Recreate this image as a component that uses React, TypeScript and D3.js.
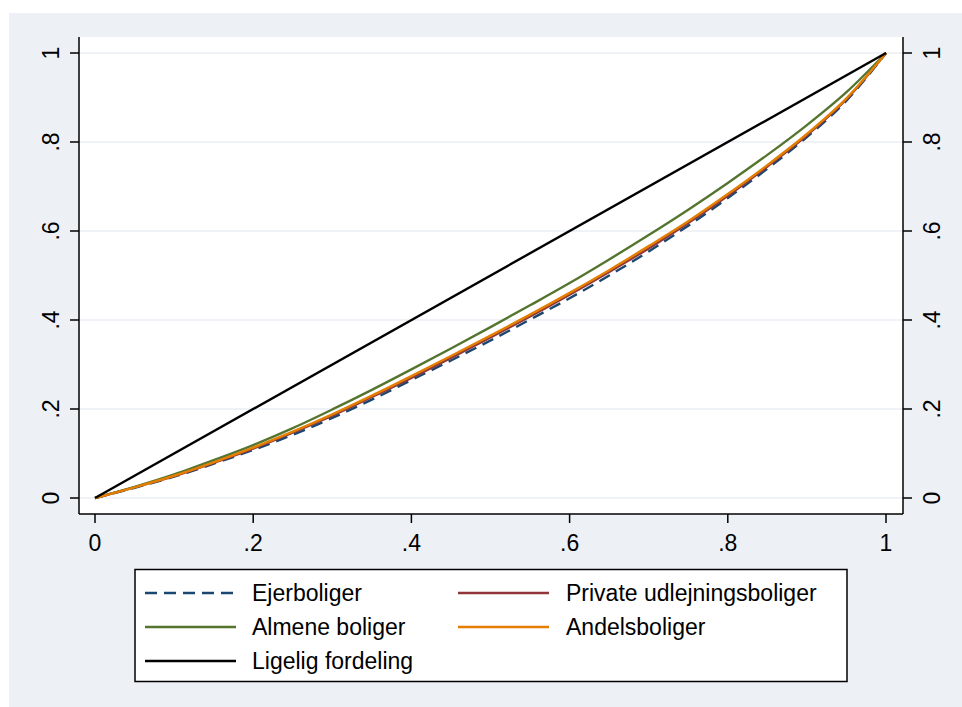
import React from "react";
import * as d3 from "d3";

const xShares = [0, 0.05, 0.1, 0.15, 0.2, 0.25, 0.3, 0.35, 0.4, 0.45, 0.5, 0.55, 0.6, 0.65, 0.7, 0.75, 0.8, 0.85, 0.9, 0.95, 1];
const ejerboliger = [0, 0.023, 0.048, 0.077, 0.108, 0.142, 0.18, 0.221, 0.265, 0.309, 0.354, 0.401, 0.449, 0.5, 0.554, 0.612, 0.674, 0.74, 0.811, 0.893, 1];
const privateUdlejning = [0, 0.024, 0.049, 0.079, 0.111, 0.147, 0.185, 0.227, 0.27, 0.315, 0.361, 0.408, 0.457, 0.508, 0.561, 0.618, 0.679, 0.745, 0.815, 0.896, 1];
const almeneBoliger = [0, 0.025, 0.053, 0.085, 0.119, 0.157, 0.199, 0.243, 0.289, 0.336, 0.384, 0.433, 0.483, 0.536, 0.591, 0.648, 0.708, 0.771, 0.838, 0.912, 1];
const andelsboliger = [0, 0.024, 0.05, 0.08, 0.113, 0.149, 0.188, 0.23, 0.274, 0.319, 0.365, 0.412, 0.461, 0.512, 0.566, 0.622, 0.683, 0.748, 0.818, 0.898, 1];
const ligeligX = [0, 1];
const ligeligY = [0, 1];

const xTicks = [0, 0.2, 0.4, 0.6, 0.8, 1];
const yTicks = [0, 0.2, 0.4, 0.6, 0.8, 1];
const tickLabels = ["0", ".2", ".4", ".6", ".8", "1"];

const seriesNames = ["Ejerboliger", "Private udlejningsboliger", "Almene boliger", "Andelsboliger", "Ligelig fordeling"];

const W = 962;
const H = 707;
const FONT = "Arial, 'Liberation Sans', sans-serif";

export default function App() {
  const x = d3.scaleLinear().domain([0, 1]).range([95, 886]);
  const y = d3.scaleLinear().domain([0, 1]).range([498, 53]);
  const plot = { l: 79, r: 903, t: 37, b: 514 };

  const line = d3
    .line<[number, number]>()
    .x((d) => x(d[0]))
    .y((d) => y(d[1]))
    .curve(d3.curveMonotoneX);

  const mk = (xs: number[], ys: number[]) => line(xs.map((v, i) => [v, ys[i]] as [number, number])) || "";

  const series = [
    { name: seriesNames[0], path: mk(xShares, ejerboliger), color: "#1a476f", dash: "12,7" },
    { name: seriesNames[1], path: mk(xShares, privateUdlejning), color: "#90353b", dash: undefined },
    { name: seriesNames[2], path: mk(xShares, almeneBoliger), color: "#55752f", dash: undefined },
    { name: seriesNames[3], path: mk(xShares, andelsboliger), color: "#e37e00", dash: undefined },
    { name: seriesNames[4], path: mk(ligeligX, ligeligY), color: "#000000", dash: undefined },
  ];

  const legendPos = [
    { lx: 145, tx: 252, cy: 593 },
    { lx: 458, tx: 566, cy: 593 },
    { lx: 145, tx: 252, cy: 627 },
    { lx: 458, tx: 566, cy: 627 },
    { lx: 145, tx: 252, cy: 661 },
  ];

  return (
    <svg width={W} height={H} style={{ position: "absolute", left: 0, top: 0 }} fontFamily={FONT}>
      <rect x={0} y={0} width={W} height={H} fill="#ffffff" />
      <rect x={9} y={13} width={W - 9} height={H - 13} fill="#edf1f6" />
      <rect x={plot.l} y={plot.t} width={plot.r - plot.l} height={plot.b - plot.t} fill="#ffffff" />
      {yTicks.map((t) => (
        <line key={"g" + t} x1={plot.l} x2={plot.r} y1={y(t)} y2={y(t)} stroke="#eaeff5" strokeWidth={1.5} />
      ))}
      {series.map((s) => (
        <path key={s.name} d={s.path} fill="none" stroke={s.color} strokeWidth={2.4} strokeDasharray={s.dash} />
      ))}
      <line x1={plot.l} x2={plot.l} y1={plot.t} y2={plot.b} stroke="#000" strokeWidth={1.5} />
      <line x1={plot.r} x2={plot.r} y1={plot.t} y2={plot.b} stroke="#000" strokeWidth={1.5} />
      <line x1={plot.l} x2={plot.r} y1={plot.b} y2={plot.b} stroke="#000" strokeWidth={1.5} />
      {yTicks.map((t, i) => (
        <g key={"yl" + t}>
          <line x1={plot.l - 9} x2={plot.l} y1={y(t)} y2={y(t)} stroke="#000" strokeWidth={1.5} />
          <line x1={plot.r} x2={plot.r + 9} y1={y(t)} y2={y(t)} stroke="#000" strokeWidth={1.5} />
          <text transform={`translate(59,${y(t)}) rotate(-90)`} textAnchor="middle" fontSize={23} fill="#000">
            {tickLabels[i]}
          </text>
          <text transform={`translate(940,${y(t)}) rotate(-90)`} textAnchor="middle" fontSize={23} fill="#000">
            {tickLabels[i]}
          </text>
        </g>
      ))}
      {xTicks.map((t, i) => (
        <g key={"xl" + t}>
          <line x1={x(t)} x2={x(t)} y1={plot.b} y2={plot.b + 9} stroke="#000" strokeWidth={1.5} />
          <text x={x(t)} y={551} textAnchor="middle" fontSize={23} fill="#000">
            {tickLabels[i]}
          </text>
        </g>
      ))}
      <rect x={135} y={569.5} width={712} height={112} fill="#ffffff" stroke="#000" strokeWidth={1.5} />
      {series.map((s, i) => (
        <g key={"lg" + s.name}>
          <line x1={legendPos[i].lx} x2={legendPos[i].lx + 91} y1={legendPos[i].cy} y2={legendPos[i].cy} stroke={s.color} strokeWidth={2.4} strokeDasharray={s.dash} />
          <text x={legendPos[i].tx} y={legendPos[i].cy + 8} fontSize={23} fill="#000">
            {s.name}
          </text>
        </g>
      ))}
    </svg>
  );
}
